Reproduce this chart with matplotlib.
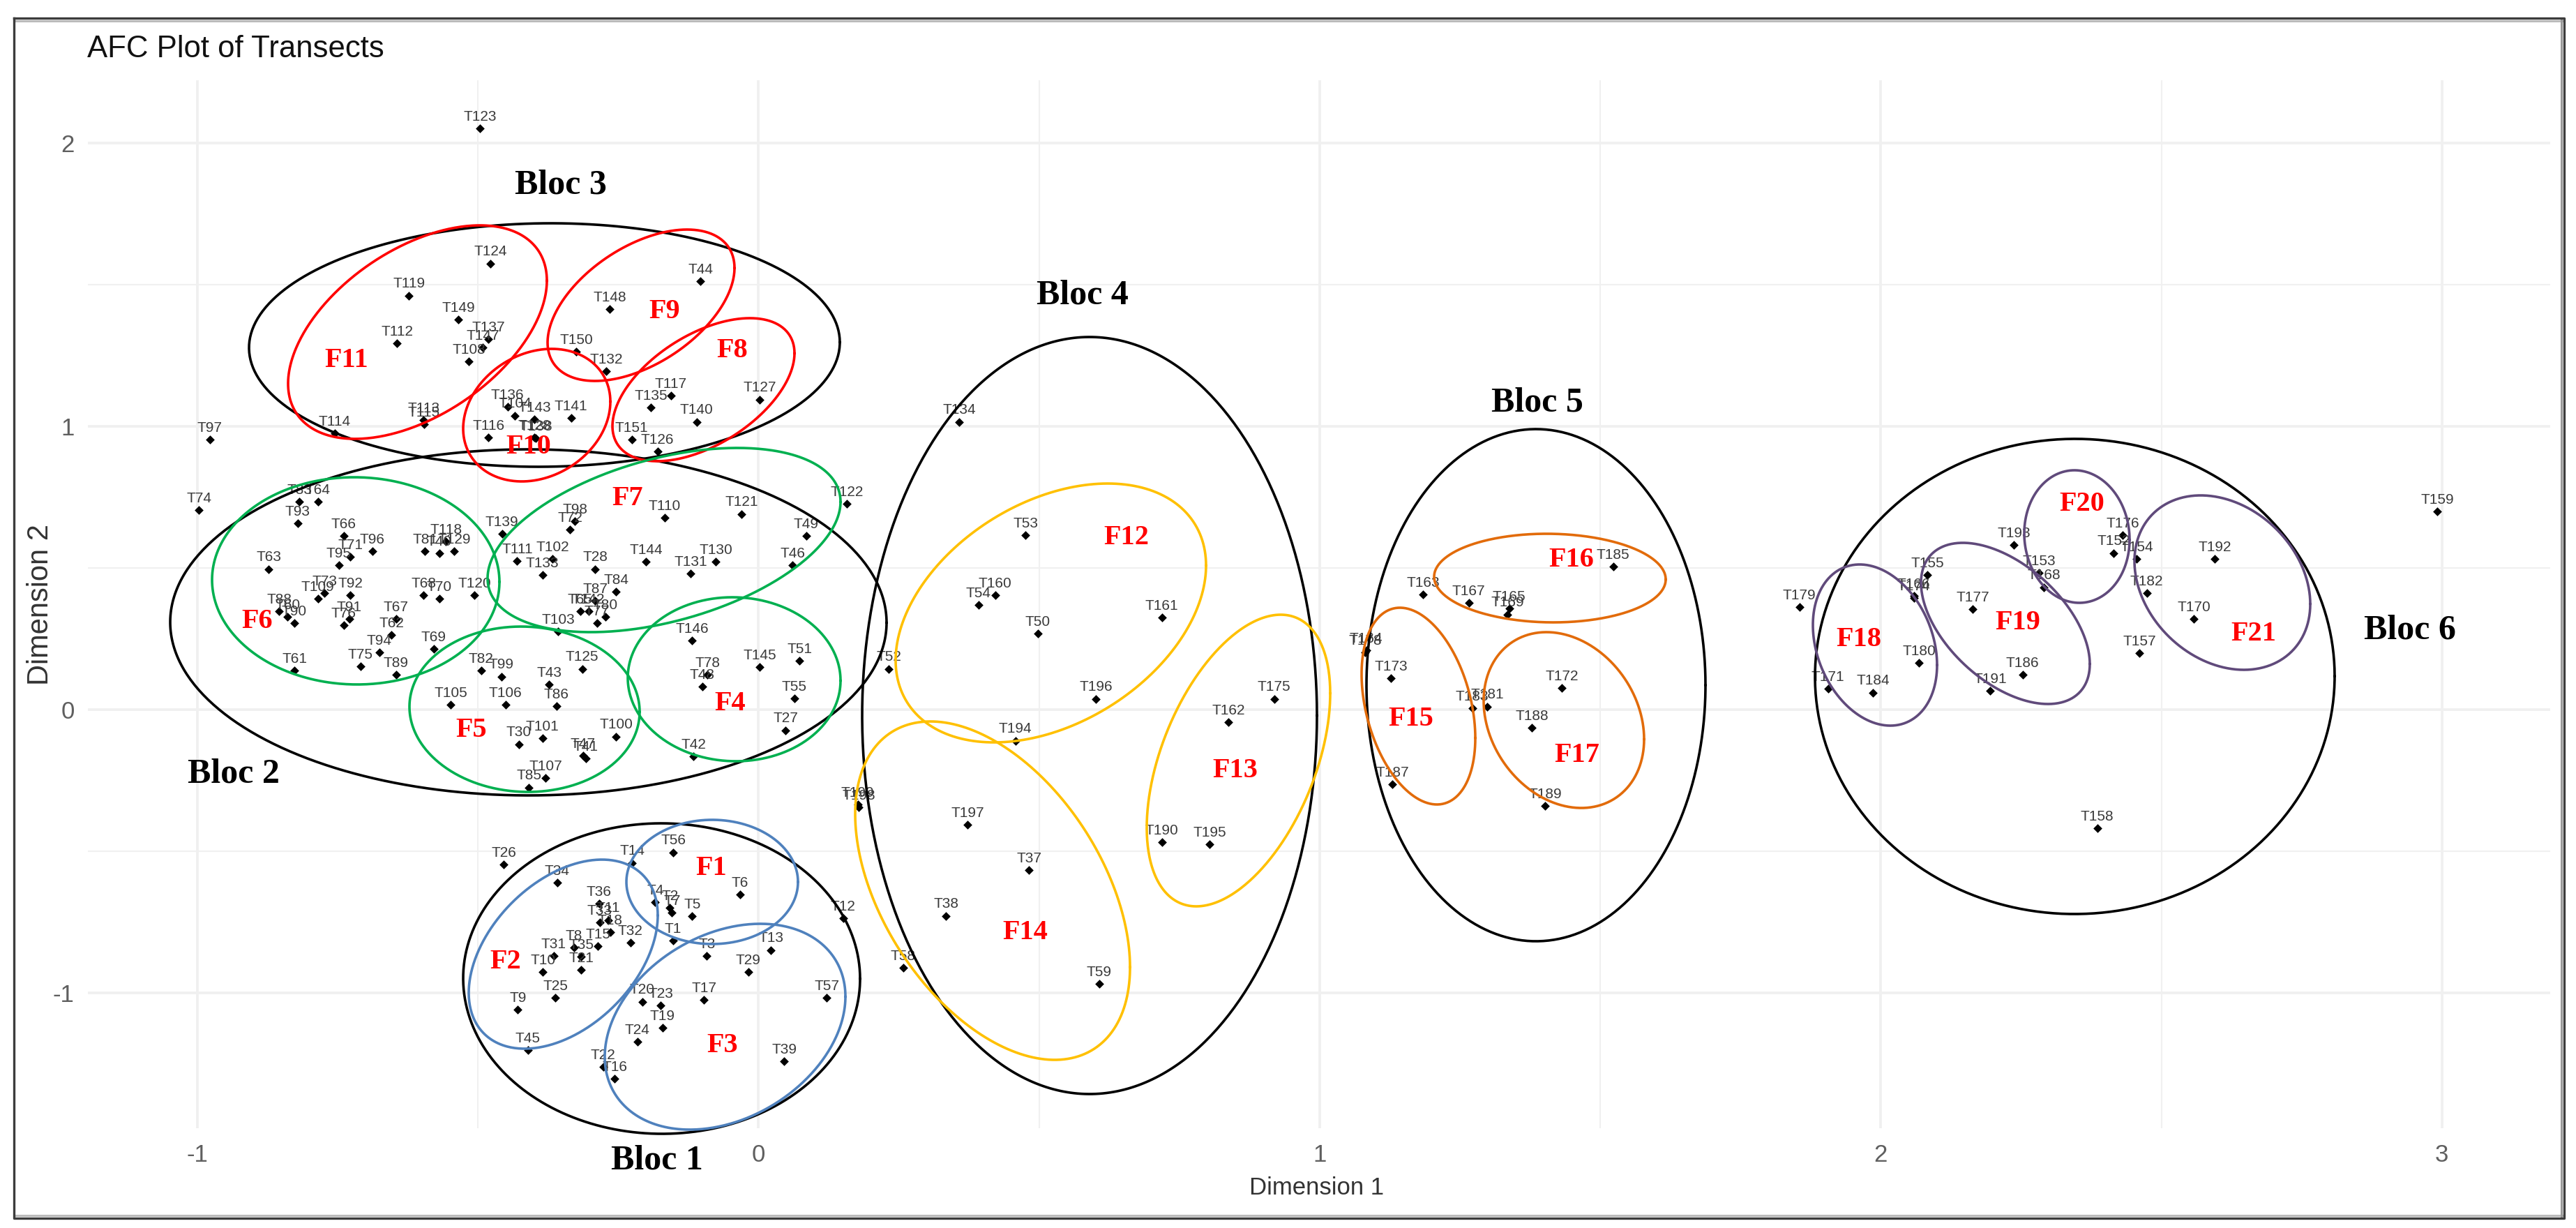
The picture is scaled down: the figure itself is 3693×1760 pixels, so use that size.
import numpy as np
import matplotlib
matplotlib.use("Agg")
import matplotlib.pyplot as plt

plt.rcParams["axes.unicode_minus"] = False
SANS = "Liberation Sans"

# transects, grouped by bloc
bloc1_names = ["T26", "T34", "T14", "T56", "T6", "T5", "T4", "T2", "T7", "T36", "T33", "T11", "T18", "T32", "T15",
               "T1", "T3", "T13", "T29", "T12", "T8", "T35", "T21", "T31", "T10", "T25", "T9", "T20", "T23", "T17",
               "T57", "T19", "T24", "T45", "T39", "T22", "T16"]
bloc1_d1 = [-0.454, -0.359, -0.225, -0.152, -0.033, -0.118, -0.184, -0.158, -0.154, -0.284, -0.283, -0.268, -0.264,
            -0.228, -0.286, -0.152, -0.092, 0.022, -0.018, 0.151, -0.329, -0.316, -0.316, -0.365, -0.384, -0.362,
            -0.429, -0.207, -0.174, -0.097, 0.122, -0.171, -0.216, -0.411, 0.046, -0.277, -0.256]
bloc1_d2 = [-0.547, -0.611, -0.541, -0.504, -0.653, -0.730, -0.681, -0.700, -0.718, -0.686, -0.751, -0.743, -0.786,
            -0.822, -0.835, -0.816, -0.869, -0.849, -0.926, -0.736, -0.841, -0.873, -0.918, -0.869, -0.926, -1.018,
            -1.060, -1.031, -1.045, -1.025, -1.018, -1.123, -1.172, -1.202, -1.241, -1.261, -1.304]

bloc2_names = ["T74", "T83", "T64", "T93", "T66", "T71", "T96", "T95", "T63", "T81", "T118", "T129", "T40", "T139",
               "T111", "T102", "T133", "T28", "T98", "T72", "T84", "T87", "T65", "T142", "T80", "T77", "T103", "T109",
               "T73", "T92", "T68", "T70", "T120", "T88", "T60", "T90", "T91", "T76", "T67", "T62", "T94", "T61",
               "T75", "T89", "T69", "T82", "T99", "T125", "T43", "T105", "T106", "T86", "T30", "T101", "T100", "T47",
               "T41", "T107", "T85", "T110", "T121", "T122", "T49", "T46", "T144", "T130", "T131", "T146", "T145",
               "T51", "T78", "T48", "T55", "T27", "T42"]
bloc2_d1 = [-0.997, -0.818, -0.785, -0.821, -0.739, -0.727, -0.688, -0.748, -0.873, -0.594, -0.557, -0.542, -0.569,
            -0.457, -0.430, -0.367, -0.385, -0.291, -0.327, -0.336, -0.254, -0.291, -0.318, -0.303, -0.273, -0.288,
            -0.357, -0.785, -0.773, -0.727, -0.597, -0.569, -0.506, -0.854, -0.839, -0.827, -0.729, -0.739, -0.646,
            -0.654, -0.676, -0.827, -0.709, -0.646, -0.579, -0.494, -0.458, -0.314, -0.373, -0.548, -0.451, -0.360,
            -0.427, -0.385, -0.254, -0.313, -0.308, -0.379, -0.409, -0.167, -0.030, 0.158, 0.085, 0.061, -0.200,
            -0.076, -0.121, -0.118, 0.002, 0.073, -0.091, -0.100, 0.064, 0.048, -0.116]
bloc2_d2 = [0.705, 0.734, 0.734, 0.657, 0.614, 0.539, 0.558, 0.509, 0.496, 0.558, 0.594, 0.558, 0.551, 0.621, 0.524,
            0.531, 0.475, 0.496, 0.664, 0.636, 0.417, 0.384, 0.347, 0.347, 0.327, 0.305, 0.276, 0.391, 0.411, 0.404,
            0.404, 0.391, 0.404, 0.347, 0.327, 0.305, 0.321, 0.298, 0.321, 0.264, 0.201, 0.137, 0.152, 0.123, 0.215,
            0.137, 0.117, 0.144, 0.088, 0.018, 0.018, 0.012, -0.122, -0.102, -0.095, -0.163, -0.173, -0.241, -0.275,
            0.678, 0.691, 0.727, 0.614, 0.509, 0.523, 0.523, 0.481, 0.243, 0.151, 0.173, 0.124, 0.082, 0.040, -0.073,
            -0.166]

bloc3_names = ["T123", "T124", "T119", "T44", "T148", "T149", "T137", "T147", "T108", "T112", "T150", "T132", "T117",
               "T135", "T127", "T140", "T136", "T104", "T143", "T141", "T113", "T115", "T114", "T97", "T116", "T128",
               "T138", "T151", "T126"]
bloc3_d1 = [-0.496, -0.478, -0.623, -0.103, -0.265, -0.535, -0.481, -0.491, -0.516, -0.644, -0.325, -0.271, -0.156,
            -0.192, 0.002, -0.110, -0.447, -0.434, -0.399, -0.334, -0.597, -0.596, -0.755, -0.978, -0.481, -0.399,
            -0.397, -0.226, -0.180]
bloc3_d2 = [2.052, 1.575, 1.462, 1.512, 1.413, 1.377, 1.308, 1.279, 1.229, 1.293, 1.263, 1.195, 1.108, 1.066, 1.095,
            1.016, 1.068, 1.038, 1.024, 1.030, 1.022, 1.007, 0.976, 0.953, 0.960, 0.960, 0.958, 0.953, 0.912]

bloc4_names = ["T134", "T53", "T54", "T160", "T50", "T161", "T52", "T196", "T194", "T175", "T162", "T190", "T195",
               "T197", "T37", "T38", "T59", "T58", "T198", "T199"]
bloc4_d1 = [0.358, 0.476, 0.392, 0.422, 0.498, 0.719, 0.232, 0.601, 0.458, 0.919, 0.838, 0.719, 0.804, 0.373, 0.482,
            0.334, 0.607, 0.258, 0.179, 0.177]
bloc4_d2 = [1.016, 0.615, 0.370, 0.404, 0.269, 0.326, 0.144, 0.038, -0.110, 0.038, -0.045, -0.468, -0.476, -0.407,
            -0.567, -0.728, -0.968, -0.912, -0.346, -0.335]

bloc5_names = ["T185", "T163", "T167", "T165", "T169", "T164", "T178", "T173", "T172", "T183", "T181", "T188", "T187",
               "T189"]
bloc5_d1 = [1.523, 1.184, 1.266, 1.338, 1.335, 1.083, 1.081, 1.127, 1.432, 1.272, 1.299, 1.378, 1.130, 1.402]
bloc5_d2 = [0.504, 0.406, 0.377, 0.358, 0.336, 0.209, 0.201, 0.111, 0.076, 0.005, 0.011, -0.065, -0.263, -0.340]

bloc6_names = ["T159", "T176", "T152", "T154", "T192", "T193", "T153", "T168", "T155", "T174", "T166", "T182", "T177",
               "T179", "T170", "T157", "T180", "T186", "T191", "T171", "T184", "T158"]
bloc6_d1 = [2.992, 2.431, 2.415, 2.456, 2.595, 2.237, 2.282, 2.291, 2.083, 2.059, 2.059, 2.474, 2.164, 1.855, 2.558,
            2.461, 2.068, 2.253, 2.195, 1.906, 1.986, 2.386]
bloc6_d2 = [0.700, 0.616, 0.553, 0.532, 0.531, 0.581, 0.483, 0.432, 0.475, 0.394, 0.402, 0.411, 0.354, 0.362, 0.320,
            0.200, 0.165, 0.123, 0.067, 0.073, 0.060, -0.418]

names = bloc1_names + bloc2_names + bloc3_names + bloc4_names + bloc5_names + bloc6_names
dim1 = bloc1_d1 + bloc2_d1 + bloc3_d1 + bloc4_d1 + bloc5_d1 + bloc6_d1
dim2 = bloc1_d2 + bloc2_d2 + bloc3_d2 + bloc4_d2 + bloc5_d2 + bloc6_d2

# hand drawn overlay, in picture pixels: left, right, top, bottom, x of the topmost point, colour
RED, GREEN, BLUE, YELLOW, ORANGE, PURPLE = "#ff0000", "#00b050", "#4f81bd", "#ffc000", "#e26b0a", "#604a7b"
black_rings = [(357, 1204, 320, 669, 790, "black"),
               (244, 1271, 644, 1140, 757, "black"),
               (664, 1233, 1180, 1625, 948, "black"),
               (1236, 1888, 483, 1568, 1562, "black"),
               (1959, 2445, 615, 1349, 2202, "black"),
               (2602, 3347, 629, 1310, 2975, "black")]
family_rings = [(413, 784, 323, 629, 688, RED),
                (785, 1053, 329, 546, 985, RED),
                (878, 1139, 456, 661, 1075, RED),
                (664, 875, 500, 690, 791, RED),
                (304, 716, 684, 981, 508, GREEN),
                (587, 917, 898, 1135, 747, GREEN),
                (699, 1205, 642, 906, 1057, GREEN),
                (900, 1205, 856, 1091, 1050, GREEN),
                (898, 1144, 1175, 1353, 1021, BLUE),
                (672, 943, 1232, 1503, 863, BLUE),
                (867, 1212, 1324, 1619, 1090, BLUE),
                (1284, 1729, 693, 1064, 1588, YELLOW),
                (1644, 1907, 881, 1299, 1836, YELLOW),
                (1226, 1620, 1034, 1519, 1334, YELLOW),
                (2056, 2388, 765, 892, 2217, ORANGE),
                (1952, 2115, 871, 1153, 2007, ORANGE),
                (2127, 2357, 906, 1158, 2217, ORANGE),
                (2902, 3053, 674, 864, 2974, PURPLE),
                (3060, 3312, 710, 960, 3155, PURPLE),
                (2754, 2996, 778, 1009, 2814, PURPLE),
                (2599, 2777, 809, 1040, 2666, PURPLE)]

family_labels = ["F1", "F2", "F3", "F4", "F5", "F6", "F7", "F8", "F9", "F10", "F11", "F12", "F13", "F14", "F15",
                 "F16", "F17", "F18", "F19", "F20", "F21"]
family_x = [1020, 725, 1036, 1047, 676, 369, 900, 1050, 953, 758, 497, 1615, 1771, 1470, 2023, 2253, 2261, 2665, 2893,
            2985, 3231]
family_y = [1244, 1379, 1498, 1009, 1047, 891, 715, 503, 446, 640, 516, 770, 1105, 1337, 1030, 803, 1083, 916, 893,
            723, 909]
bloc_labels = ["Bloc 1", "Bloc 2", "Bloc 3", "Bloc 4", "Bloc 5", "Bloc 6"]
bloc_x = [942, 335, 804, 1552, 2204, 3455]
bloc_y = [1663, 1110, 265, 424, 577, 904]

W, H = 3693, 1760
fig = plt.figure(figsize=(W / 100, H / 100), dpi=100, facecolor="white")

# scatter panel, same limits as the original ggplot
left, right, top, bottom = 126, 3656, 115, 1617
ax = fig.add_axes([left / W, 1 - bottom / H, (right - left) / W, (bottom - top) / H])
ax.set_xlim(-1.195, 3.193)
ax.set_ylim(-1.478, 2.222)
for s in ax.spines.values():
    s.set_visible(False)
ax.set_xticks([-1, 0, 1, 2, 3])
ax.set_yticks([-1, 0, 1, 2])
ax.set_xticks([-0.5, 0.5, 1.5, 2.5], minor=True)
ax.set_yticks([-0.5, 0.5, 1.5], minor=True)
ax.grid(which="major", color="#f0f0f0", linewidth=2.7)
ax.grid(which="minor", color="#f0f0f0", linewidth=1.5)
ax.set_axisbelow(True)
ax.tick_params(which="both", length=0)
ax.tick_params(axis="x", pad=16)
ax.tick_params(axis="y", pad=14)
for t in ax.get_xticklabels() + ax.get_yticklabels():
    t.set_family(SANS)
    t.set_fontsize(25)
    t.set_color("#5f5f5f")

ax.scatter(dim1, dim2, s=42, c="black", marker="D", linewidths=0, zorder=3)
for name, x, y in zip(names, dim1, dim2):
    ax.annotate(name, (x, y), xytext=(0, 12), textcoords="offset points", ha="center", va="center",
                fontsize=15, family=SANS, color="#3a3a3a", zorder=4)

# overlay in picture pixels for the frame, rings and hand placed labels
over = fig.add_axes([0, 0, 1, 1], facecolor="none")
over.set_xlim(0, W)
over.set_ylim(H, 0)
over.axis("off")

frame_x = [20, 3676, 3676, 20, 20]
frame_y = [26, 26, 1746, 1746, 26]
over.plot([22, 3674], [30, 30], color="#bbbbbb", lw=2.2)
over.plot([22, 3674], [1742, 1742], color="#bbbbbb", lw=2.2)
over.plot([3672, 3672], [28, 1744], color="#999999", lw=2.2)
over.plot(frame_x, frame_y, color="#3c3c3c", lw=2.4)


def draw_ring(l, r, t, b, top_x, color):
    cx, cy = (l + r) / 2, (t + b) / 2
    hw, hh = (r - l) / 2, (b - t) / 2
    rho = (top_x - cx) / hw
    a = np.linspace(0, 2 * np.pi, 400)
    px = cx + hw * np.cos(a)
    py = cy - hh * (rho * np.cos(a) + np.sqrt(1 - rho ** 2) * np.sin(a))
    over.plot(px, py, color=color, lw=2.6, solid_capstyle="round")


for ring in black_rings + family_rings:
    draw_ring(*ring)

for lab, x, y in zip(family_labels, family_x, family_y):
    over.text(x, y, lab, color="#ff0000", fontsize=29, family="Liberation Serif", fontweight="bold",
              ha="center", va="center")
for lab, x, y in zip(bloc_labels, bloc_x, bloc_y):
    over.text(x, y, lab, color="black", fontsize=36, family="Liberation Serif", fontweight="bold",
              ha="center", va="center")

over.text(125, 71, "AFC Plot of Transects", fontsize=31.5, family=SANS, color="#111111", ha="left", va="center")
over.text(1888, 1702, "Dimension 1", fontsize=25, family=SANS, color="#333333", ha="center", va="center")
over.text(58, 866, "Dimension 2", fontsize=30, family=SANS, color="#333333", ha="center", va="center", rotation=90)

fig.savefig("out.png", dpi=100, facecolor="white")
